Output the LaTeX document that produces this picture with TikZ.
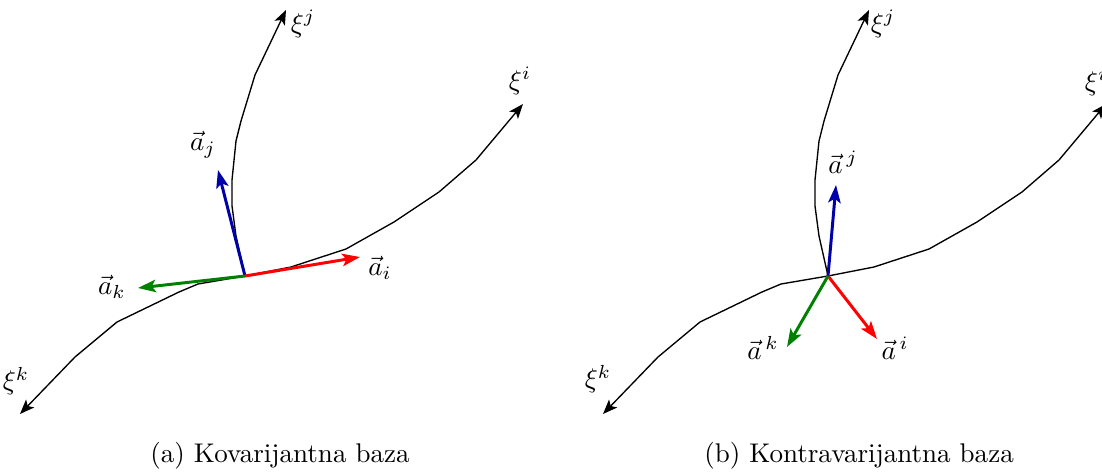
\documentclass[tikz,border=0pt]{standalone}
\usetikzlibrary{arrows.meta}
\definecolor{vecred}{rgb}{1,0,0}
\definecolor{vecgreen}{rgb}{0,0.5,0}
\definecolor{vecblue}{rgb}{0,0,0.67}
\tikzset{
  coordline/.style={line width=0.5pt,-{Stealth[length=5.4pt,width=4.2pt,inset=1.3pt]}},
  basevec/.style={line width=1.1pt,-{Stealth[length=6.6pt,width=4.6pt,inset=1.5pt]}},
}
\begin{document}
\begin{tikzpicture}[x=0.37pt,y=-0.37pt]
\useasboundingbox (0,0) rectangle (1102,474);
% (a) covariant basis
\begin{scope}[shift={(245,276)}]
\coordinate (Oa) at (0,0);
\draw[coordline] (Oa) -- (-9,-40) -- (-13,-70) -- (-13,-96) -- (-9,-135) -- (-4,-155) -- (10,-201) -- (41,-266);
\draw[coordline] (Oa) -- (46,-9) -- (101,-27) -- (149,-54) -- (194,-84) -- (231,-116) -- (278,-172);
\draw[coordline] (Oa) -- (-47,8) -- (-66,16) -- (-128,46) -- (-170,81) -- (-225,138);
\node (xija) at (58,-252) {$\xi^j$};
\node (xiia) at (275,-195) {$\xi^i$};
\node (xika) at (-229,105) {$\xi^k$};
\coordinate (aj) at (-27,-106);
\coordinate (ai) at (115,-19);
\coordinate (ak) at (-107,12);
\draw[basevec,vecblue] (Oa) -- (aj);
\draw[basevec,vecred] (Oa) -- (ai);
\draw[basevec,vecgreen] (Oa) -- (ak);
\node (laj) at (-42,-131) {$\vec{a}_j$};
\node (lai) at (135,-8) {$\vec{a}_i$};
\node (lak) at (-133,11) {$\vec{a}_k$};
\end{scope}
% (b) contravariant basis
\begin{scope}[shift={(828,276)}]
\coordinate (Ob) at (0,0);
\draw[coordline] (Ob) -- (-9,-40) -- (-13,-70) -- (-13,-96) -- (-9,-135) -- (-4,-155) -- (10,-201) -- (41,-266);
\draw[coordline] (Ob) -- (46,-9) -- (101,-27) -- (149,-54) -- (194,-84) -- (231,-116) -- (278,-172);
\draw[coordline] (Ob) -- (-47,8) -- (-66,16) -- (-128,46) -- (-170,81) -- (-225,138);
\node (xijb) at (55,-252) {$\xi^j$};
\node (xiib) at (268,-194) {$\xi^i$};
\node (xikb) at (-230,103) {$\xi^k$};
\coordinate (uj) at (8,-91);
\coordinate (ui) at (49,63);
\coordinate (uk) at (-41,71);
\draw[basevec,vecblue] (Ob) -- (uj);
\draw[basevec,vecred] (Ob) -- (ui);
\draw[basevec,vecgreen] (Ob) -- (uk);
\node (luj) at (15,-114) {$\vec{a}^{\,j}$};
\node (lui) at (67,72) {$\vec{a}^{\,i}$};
\node (luk) at (-65,72) {$\vec{a}^{\,k}$};
\end{scope}
\node[anchor=base] (capa) at (280,462) {(a) Kovarijantna baza};
\node[anchor=base] (capb) at (859,462) {(b) Kontravarijantna baza};
\end{tikzpicture}
\end{document}
